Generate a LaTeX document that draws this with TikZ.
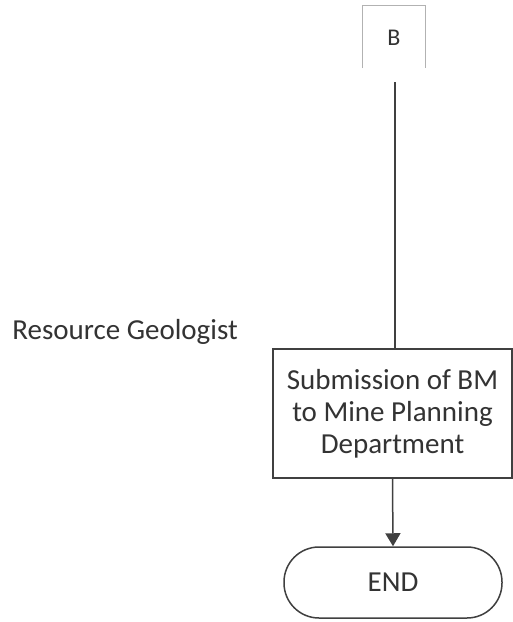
\documentclass[tikz,border=0pt]{standalone}
\usepackage{fontspec}
\setmainfont{Carlito}
\usetikzlibrary{arrows.meta}
\tikzset{
  frame/.style={draw=black!75, line width=1.5pt},
  lightframe/.style={draw=black!30, line width=0.8pt},
  conn/.style={draw=black!75, line width=1.5pt},
  txt/.style={font=\fontsize{29}{32}\selectfont, text=black!80},
  smalltxt/.style={font=\fontsize{24}{28}\selectfont, text=black!80}
}
\begin{document}
\begin{tikzpicture}[x=1pt,y=-1pt]
\useasboundingbox[fill=white] (0,0) rectangle (513,622);
% B connector box (open bottom)
\draw[lightframe] (362,68) -- (362,5) -- (425,5) -- (425,68);
\node[smalltxt] (B) at (394,38) {B};
\coordinate (bstart) at (395,82);
% Role label
\node[txt, anchor=east, inner sep=0pt] (role) at (238,332) {Resource Geologist};
% Process box
\node[frame, txt, align=center, minimum width=239pt, minimum height=129pt, inner sep=0pt] (sub) at (392.5,413.5)
  {Submission of BM\\to Mine Planning\\Department};
% Terminator
\node[frame, txt, rounded corners=35pt, minimum width=218pt, minimum height=71pt, inner sep=0pt] (end) at (393,582.5) {END};
% Connectors
\draw[conn] (bstart) -- (sub.north -| bstart);
\draw[conn, -{Triangle[width=15pt,length=13pt]}] (sub.south) -- (end.north);
\end{tikzpicture}
\end{document}
